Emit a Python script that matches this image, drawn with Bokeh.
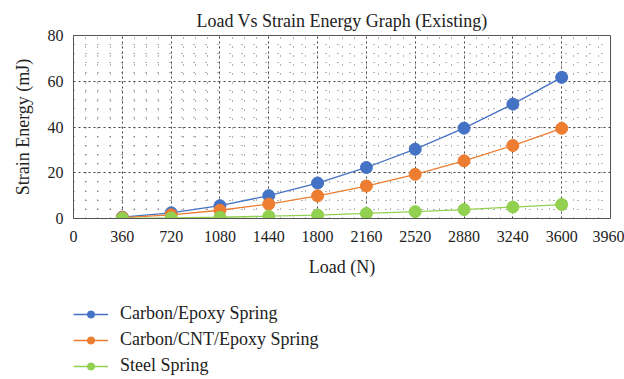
from bokeh.plotting import figure
from bokeh.layouts import column
from bokeh.models import FixedTicker, Legend, LegendItem, Range1d
from bokeh.embed import file_html
from bokeh.resources import INLINE

loads = [360, 720, 1080, 1440, 1800, 2160, 2520, 2880, 3240, 3600]
carbon_epoxy = [0.6, 2.5, 5.6, 10.0, 15.5, 22.3, 30.3, 39.5, 50.0, 61.7]
carbon_cnt = [0.4, 1.6, 3.6, 6.3, 9.9, 14.2, 19.3, 25.2, 31.9, 39.4]
steel = [0.06, 0.25, 0.55, 1.0, 1.5, 2.2, 3.0, 3.9, 5.0, 6.1]
series_names = ["Carbon/Epoxy Spring", "Carbon/CNT/Epoxy Spring", "Steel Spring"]
x_ticks = [0, 360, 720, 1080, 1440, 1800, 2160, 2520, 2880, 3240, 3600, 3960]
y_ticks = [0, 20, 40, 60, 80]

FONT = "Liberation Serif"
TXT = "#222222"
colors = ["#4472C4", "#ED7D31", "#92D050"]

p = figure(width=624, height=280, output_backend="svg", toolbar_location=None,
           x_range=Range1d(0, 3960), y_range=Range1d(0, 80),
           min_border_left=73, min_border_right=14, min_border_top=35,
           min_border_bottom=62)
p.title.text = "Load Vs Strain Energy Graph (Existing)"
p.title.align = "center"
p.title.vertical_align = "top"
p.title.text_font = FONT
p.title.text_font_size = "18px"
p.title.text_font_style = "normal"
p.title.text_color = TXT
p.title.standoff = 5

p.outline_line_color = "#555555"
p.outline_line_width = 1

for ax in (p.xaxis[0], p.yaxis[0]):
    ax.major_label_text_font = FONT
    ax.major_label_text_font_size = "16px"
    ax.major_label_text_color = TXT
    ax.axis_label_text_font = FONT
    ax.axis_label_text_font_size = "18px"
    ax.axis_label_text_font_style = "normal"
    ax.axis_label_text_color = TXT
    ax.major_tick_in = 0
    ax.major_tick_out = 0
    ax.minor_tick_in = 0
    ax.minor_tick_out = 0
    ax.axis_line_color = "#555555"

p.xaxis.ticker = FixedTicker(ticks=x_ticks, minor_ticks=list(range(0, 3961, 90)))
p.yaxis.ticker = FixedTicker(ticks=y_ticks, minor_ticks=list(range(0, 81, 4)))
p.xaxis.axis_label = "Load (N)"
p.yaxis.axis_label = "Strain Energy (mJ)"
p.xaxis.major_label_standoff = 12
p.yaxis.major_label_standoff = 10
p.xaxis.axis_label_standoff = 12
p.yaxis.axis_label_standoff = 12

for g in (p.xgrid[0], p.ygrid[0]):
    g.grid_line_color = "#444444"
    g.grid_line_dash = "2 3"
    g.grid_line_width = 1
    g.minor_grid_line_color = "#666666"
    g.minor_grid_line_width = 1
p.xgrid[0].minor_grid_line_dash = "1 8"
p.ygrid[0].minor_grid_line_dash = "1 11"

series = [carbon_epoxy, carbon_cnt, steel]
for ys, c in zip(series, colors):
    p.line(loads, ys, line_color=c, line_width=1.3)
    p.scatter(loads, ys, size=12, fill_color=c, line_color=c)

# legend panel below the chart (its data lies outside its empty frame)
p2 = figure(width=624, height=99, output_backend="svg", toolbar_location=None,
            x_range=Range1d(-2, -1), y_range=Range1d(-2, -1),
            x_axis_type=None, y_axis_type=None, min_border=0)
p2.outline_line_color = None
p2.grid.visible = False
items = []
for name, ys, c in zip(series_names, series, colors):
    r1 = p2.line(loads, ys, line_color=c, line_width=1.3)
    r2 = p2.scatter(loads, ys, size=12, fill_color=c, line_color=c)
    items.append(LegendItem(label=name, renderers=[r1, r2]))

legend = Legend(items=items, location=(0, 3), orientation="vertical")
legend.label_text_font = FONT
legend.label_text_font_size = "18px"
legend.label_text_color = TXT
legend.glyph_width = 35
legend.glyph_height = 18
legend.label_height = 18
legend.spacing = 5
legend.padding = 0
legend.margin = 0
legend.border_line_color = None
legend.background_fill_alpha = 0
legend.label_standoff = 12
p2.add_layout(legend, "center")

layout = column(p, p2, spacing=0)
open("out.html", "w").write(file_html(layout, INLINE))
